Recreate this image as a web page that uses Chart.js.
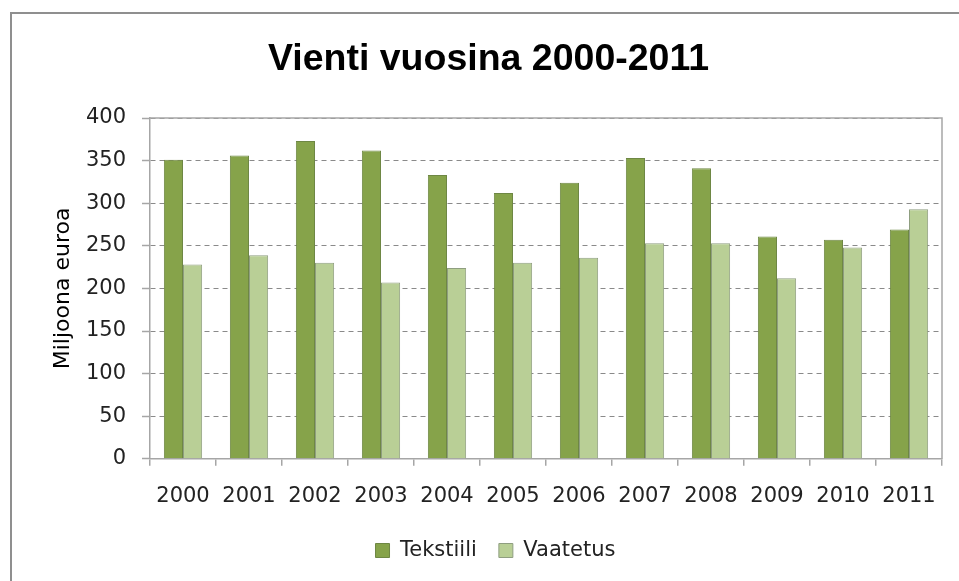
<!DOCTYPE html>
<html>
<head>
<meta charset="utf-8">
<script src="https://cdn.jsdelivr.net/npm/chart.js@4/dist/chart.umd.min.js"></script>
<style>
  html, body { margin: 0; padding: 0; background: #ffffff; }
  #wrap { position: relative; width: 959px; height: 581px; overflow: hidden; }
  #frame { position: absolute; left: 10px; top: 12px; width: 980px; height: 600px;
           border-top: 2px solid #8f8f8f; border-left: 2px solid #8f8f8f; box-sizing: border-box; pointer-events: none; }
  canvas { position: absolute; left: 0; top: 0; }
</style>
</head>
<body>
<div id="wrap">
  <canvas id="c" width="959" height="581"></canvas>
  <div id="frame"></div>
</div>
<script>
const years = ["2000","2001","2002","2003","2004","2005","2006","2007","2008","2009","2010","2011"];
const tekstiili = [351, 356, 373, 362, 333, 312, 324, 353, 341, 261, 257, 269];
const vaatetus = [228, 239, 230, 207, 224, 230, 236, 253, 253, 212, 248, 293];
const seriesNames = ["Tekstiili", "Vaatetus"];
const chartTitle = "Vienti vuosina 2000-2011";
const yTitle = "Miljoona euroa";

const frameRight = {
  id: 'frameRight',
  afterLayout(chart) {
    const lg = chart.legend;
    if (lg) { lg.left += 7; lg.right += 7; }
  },
  afterDatasetsDraw(chart) {
    const a = chart.chartArea, ctx = chart.ctx;
    ctx.save();
    ctx.strokeStyle = '#a6a6a6';
    ctx.lineWidth = 1.5;
    ctx.setLineDash([]);
    ctx.beginPath();
    ctx.moveTo(a.left, a.top);
    ctx.lineTo(a.right, a.top);
    ctx.lineTo(a.right, a.bottom);
    ctx.stroke();
    ctx.restore();
  }
};

new Chart(document.getElementById('c'), {
  type: 'bar',
  data: {
    labels: years,
    datasets: [
      { label: seriesNames[0], data: tekstiili, backgroundColor: '#86a34a', borderColor: '#6e8744', borderWidth: 1 },
      { label: seriesNames[1], data: vaatetus, backgroundColor: '#b9cf96', borderColor: '#8f9e80', borderWidth: 1 }
    ]
  },
  plugins: [frameRight],
  options: {
    responsive: false,
    animation: false,
    layout: { padding: { left: 35, right: 17, top: 0, bottom: 10 } },
    datasets: { bar: { categoryPercentage: 0.58, barPercentage: 1.0 } },
    plugins: {
      title: {
        display: true, text: chartTitle, color: '#000000',
        font: { family: 'Liberation Sans', size: 37.5, weight: 'bold' },
        padding: { top: 37, bottom: 36 }
      },
      legend: {
        position: 'bottom',
        labels: {
          color: '#222222', boxWidth: 14, boxHeight: 14, padding: 22,
          font: { family: 'DejaVu Sans', size: 21 }
        }
      },
      tooltip: { enabled: false }
    },
    scales: {
      x: {
        grid: { drawOnChartArea: false, color: '#a6a6a6', tickLength: 7, lineWidth: 1.5 },
        border: { color: '#a6a6a6', width: 1.5 },
        ticks: { color: '#222222', padding: 18, font: { family: 'DejaVu Sans', size: 21 }, maxRotation: 0 },
        afterFit(scale) { scale.height -= 9; }
      },
      y: {
        min: 0, max: 400,
        ticks: { stepSize: 50, color: '#222222', padding: 16, font: { family: 'DejaVu Sans', size: 21 } },
        grid: { color: '#8a8a8a', lineWidth: 1, tickLength: 8, tickColor: '#a6a6a6', tickWidth: 1.5, tickBorderDash: [] },
        border: { color: '#a6a6a6', width: 1.5, dash: [5, 4] },
        title: { display: true, text: yTitle, color: '#000000', font: { family: 'DejaVu Sans', size: 22 }, padding: { top: 15, bottom: 0 } },
        afterFit(scale) { scale.width = 115; }
      }
    }
  }
});
</script>
</body>
</html>
